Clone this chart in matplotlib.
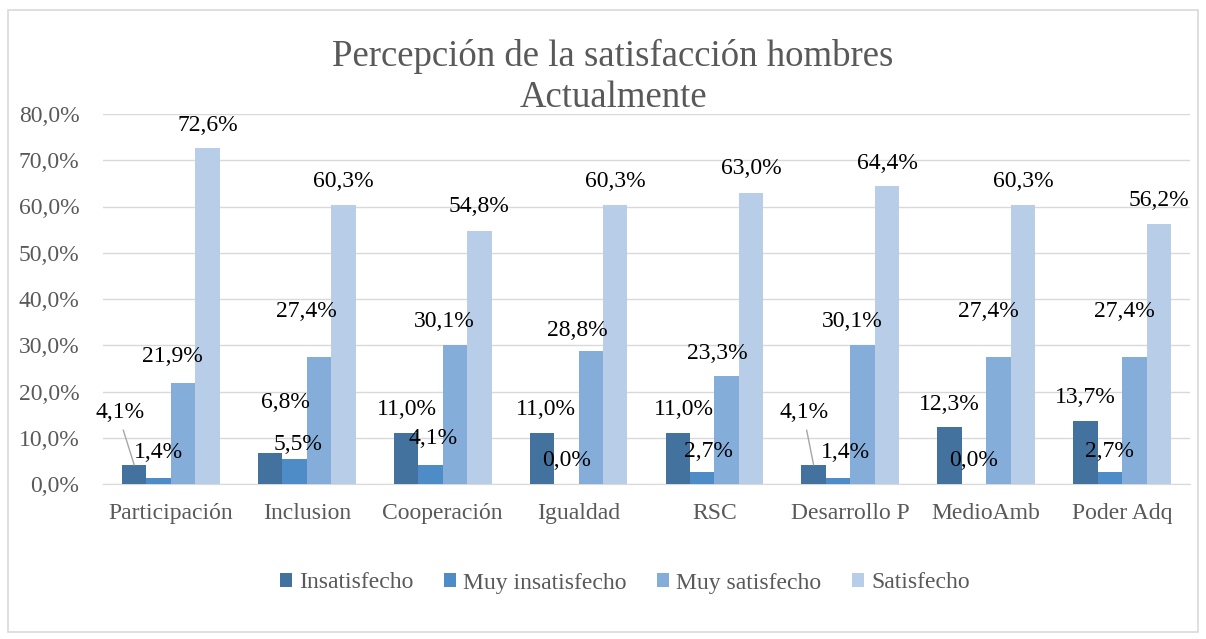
import matplotlib
matplotlib.use("Agg")
import matplotlib.pyplot as plt
from matplotlib.patches import Rectangle
from matplotlib.ticker import FuncFormatter
import numpy as np

categories = ["Participación", "Inclusion", "Cooperación", "Igualdad", "RSC",
              "Desarrollo P", "MedioAmb", "Poder Adq"]
series_names = ["Insatisfecho", "Muy insatisfecho", "Muy satisfecho", "Satisfecho"]
insatisfecho = [4.1, 6.8, 11.0, 11.0, 11.0, 4.1, 12.3, 13.7]
muy_insatisfecho = [1.4, 5.5, 4.1, 0.0, 2.7, 1.4, 0.0, 2.7]
muy_satisfecho = [21.9, 27.4, 30.1, 28.8, 23.3, 30.1, 27.4, 27.4]
satisfecho = [72.6, 60.3, 54.8, 60.3, 63.0, 64.4, 60.3, 56.2]
yticks = [0, 10, 20, 30, 40, 50, 60, 70, 80]

colors = ["#44729F", "#4E8CC8", "#84ADDA", "#B7CDE8"]

# label offsets (pixels: dx right, dy up) per series per category
label_dx = [
    [-14, 15, 1, 4, 6, -10, 0, 0],
    [0, 3, 3, 0, 6, 7, 0, 0],
    [-11, -13, -11, -13, -9, -10, -10, -10],
    [0, 0, 0, 0, 0, 0, 0, 0],
]
label_dy = [
    [53, 50, 24, 24, 24, 53, 23, 23],
    [25, 14, 27, 23, 20, 25, 23, 20],
    [26, 46, 23, 20, 23, 23, 46, 46],
    [23, 24, 24, 24, 24, 23, 24, 24],
]
leader = {(0, 0), (0, 5)}

serif = ["Liberation Serif", "DejaVu Serif"]
plt.rcParams["font.family"] = serif

fig = plt.figure(figsize=(12.06, 6.39), dpi=100)
fig.patches.append(Rectangle((8 / 1206, 1 - 632 / 639), 1190 / 1206, 622 / 639,
                             transform=fig.transFigure, fill=False,
                             edgecolor="#D9D9D9", linewidth=1.2))
ax = fig.add_axes([103 / 1206, 1 - 484 / 639, (1190 - 103) / 1206, (484 - 114) / 639])

data = [insatisfecho, muy_insatisfecho, muy_satisfecho, satisfecho]
x = np.arange(len(categories))
w = 0.18
px = 0.72  # points per pixel at dpi 100
for i, (vals, name, c) in enumerate(zip(data, series_names, colors)):
    xs = x + (i - 1.5) * w
    ax.bar(xs, vals, width=w, color=c, label=name, zorder=3)
    for j, v in enumerate(vals):
        dx = label_dx[i][j] * px
        dy = label_dy[i][j] * px
        ax.annotate(f"{v:.1f}%".replace(".", ","), xy=(xs[j], v),
                    xytext=(dx, dy), textcoords="offset points",
                    ha="center", va="center", fontsize=17, color="#000000",
                    zorder=5)
        if (i, j) in leader:
            ax.annotate("", xy=(xs[j], v), xytext=(dx + 3 * px, dy - 18 * px),
                        textcoords="offset points",
                        arrowprops=dict(arrowstyle="-", color="#A6A6A6", lw=1,
                                        shrinkA=0, shrinkB=0))

ax.set_xlim(-0.5, len(categories) - 0.5)
ax.set_ylim(0, 80)
ax.set_yticks(yticks)
ax.yaxis.set_major_formatter(FuncFormatter(lambda v, p: f"{v:.1f}%".replace(".", ",")))
ax.set_xticks(x)
ax.set_xticklabels(categories)
ax.tick_params(axis="both", length=0, labelsize=17, colors="#595959")
ax.tick_params(axis="x", pad=14)
ax.tick_params(axis="y", pad=17)
ax.grid(axis="y", color="#D9D9D9", linewidth=1, zorder=0)
for s in ["top", "right", "left"]:
    ax.spines[s].set_visible(False)
ax.spines["bottom"].set_color("#D9D9D9")

fig.text(613 / 1206, 1 - 77 / 639, "Percepción de la satisfacción hombres\nActualmente",
         ha="center", va="center", fontsize=26.5, color="#595959", linespacing=1.25)

leg = fig.legend(loc="center", bbox_to_anchor=(625 / 1206, 1 - 583 / 639), ncol=4,
                 frameon=False, prop={"family": serif, "size": 17},
                 handlelength=0.5, handleheight=0.5,
                 handletextpad=0.3, columnspacing=1.3)
for t in leg.get_texts():
    t.set_color("#595959")

fig.savefig("out.png", dpi=100)
